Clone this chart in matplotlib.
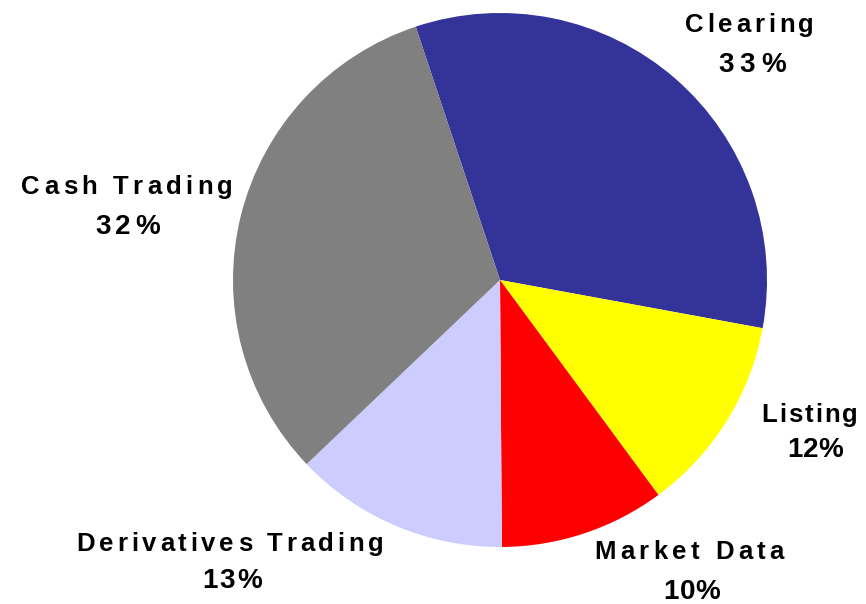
import matplotlib
matplotlib.use("Agg")
import matplotlib.pyplot as plt
from matplotlib.font_manager import FontProperties

categories = ["Clearing", "Listing", "Market Data", "Derivatives Trading", "Cash Trading"]
shares = [33, 12, 10, 13, 32]
pct_labels = ["33%", "12%", "10%", "13%", "32%"]
colors = ["#333399", "#FFFF00", "#FF0000", "#CCCCFF", "#808080"]

W, H = 866, 604
fig = plt.figure(figsize=(W / 100, H / 100), dpi=100)
ax = fig.add_axes([0, 0, 1, 1])

ax.pie(shares, colors=colors, startangle=108.4, counterclock=False,
       center=(500, H - 280), radius=267, wedgeprops=dict(linewidth=0))
ax.set_xlim(0, W)
ax.set_ylim(0, H)
ax.set_aspect("equal")
ax.axis("off")

fp_name = FontProperties(family=["Liberation Sans", "DejaVu Sans"], weight="bold", size=18.5)
fp_pct = FontProperties(family=["Liberation Sans", "DejaVu Sans"], weight="bold", size=20)
renderer = fig.canvas.get_renderer()


def text_w(s, fp):
    w, h, d = renderer.get_text_width_height_descent(s, fp, ismath=False)
    return w


def tracked(s, fp, cx, baseline_top, width):
    base = text_w("xx", fp)
    advs = [text_w("x" + c + "x", fp) - base for c in s]
    natural = sum(advs)
    track = (width - natural) / max(len(s) - 1, 1)
    total = natural + track * (len(s) - 1)
    x = cx - total / 2
    y = H - baseline_top
    for c, a in zip(s, advs):
        if c != " ":
            ax.text(x, y, c, fontproperties=fp, ha="left", va="baseline", color="black")
        x += a + track


# label layout: (center x, baseline y from top, ink width) in pixels
name_layout = [(749.5, 32, 129), (809.5, 422, 97), (689, 559, 190), (230, 551, 307), (127, 194, 211)]
pct_layout = [(752, 72, 68), (815, 457, 56), (692, 599, 57), (232, 588, 59), (127.5, 234, 65)]

for name, pct, nl, pl in zip(categories, pct_labels, name_layout, pct_layout):
    tracked(name, fp_name, *nl)
    tracked(pct, fp_pct, *pl)

fig.savefig("out.png", dpi=100)
